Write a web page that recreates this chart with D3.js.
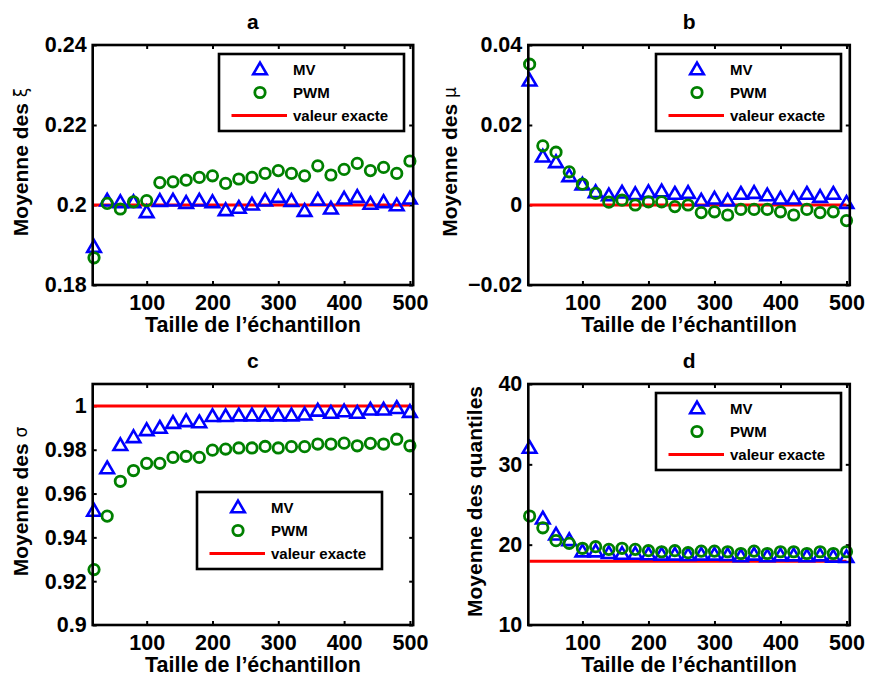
<!DOCTYPE html>
<html>
<head>
<meta charset="utf-8">
<script src="https://cdn.jsdelivr.net/npm/d3@7"></script>
<style>
  html, body { margin: 0; padding: 0; background: #fff; }
  svg { display: block; }
  text { font-family: "Liberation Sans", Arial, Helvetica, sans-serif; font-weight: bold; fill: #000; }
</style>
</head>
<body>
<svg id="chart" width="869" height="678"></svg>
<script>
// ---------------- DATA ----------------
const sampleSizes = [20, 40, 60, 80, 100, 120, 140, 160, 180, 200, 220, 240, 260, 280, 300, 320, 340, 360, 380, 400, 420, 440, 460, 480, 500];

const xiMV  = [0.1896, 0.2012, 0.2008, 0.2008, 0.1983, 0.2011, 0.2012, 0.2006, 0.2012, 0.2008, 0.1988, 0.1994, 0.2002, 0.2012, 0.2021, 0.2011, 0.1986, 0.2014, 0.1992, 0.2017, 0.2021, 0.2004, 0.2008, 0.2000, 0.2017];
const xiPWM = [0.1868, 0.2004, 0.1990, 0.2008, 0.2011, 0.2056, 0.2058, 0.2062, 0.2069, 0.2073, 0.2054, 0.2065, 0.2069, 0.2079, 0.2086, 0.2079, 0.2073, 0.2098, 0.2075, 0.2089, 0.2104, 0.2086, 0.2094, 0.2079, 0.2110];

const muMV  = [0.0312, 0.0122, 0.0108, 0.0073, 0.0052, 0.0033, 0.0025, 0.0032, 0.0028, 0.0033, 0.0035, 0.0029, 0.0031, 0.0012, 0.0017, 0.0012, 0.0029, 0.0031, 0.0025, 0.0017, 0.0017, 0.0029, 0.0021, 0.0029, 0.0006];
const muPWM = [0.0352, 0.0148, 0.0132, 0.0083, 0.0052, 0.0029, 0.0007, 0.0012, 0.0000, 0.0008, 0.0008, -0.0004, 0.0000, -0.0019, -0.0017, -0.0025, -0.0011, -0.0011, -0.0011, -0.0017, -0.0025, -0.0011, -0.0019, -0.0017, -0.0039];

const sigmaMV  = [0.9523, 0.9717, 0.9823, 0.9859, 0.9891, 0.9902, 0.9924, 0.9932, 0.9927, 0.9955, 0.9955, 0.9958, 0.9958, 0.9958, 0.9958, 0.9958, 0.9962, 0.9980, 0.9970, 0.9977, 0.9970, 0.9985, 0.9985, 0.9992, 0.9974];
const sigmaPWM = [0.9253, 0.9497, 0.9656, 0.9705, 0.9738, 0.9738, 0.9765, 0.9770, 0.9765, 0.9798, 0.9803, 0.9808, 0.9808, 0.9815, 0.9808, 0.9814, 0.9814, 0.9826, 0.9826, 0.9830, 0.9818, 0.9829, 0.9826, 0.9848, 0.9818];

const quantMV  = [32.1, 23.3, 21.3, 20.6, 19.2, 19.2, 19.0, 18.9, 18.9, 18.85, 18.8, 18.8, 18.75, 18.8, 18.8, 18.75, 18.6, 18.8, 18.6, 18.7, 18.7, 18.6, 18.7, 18.55, 18.5];
const quantPWM = [23.57, 22.1, 20.5, 20.17, 19.55, 19.75, 19.42, 19.55, 19.42, 19.25, 19.12, 19.25, 19.0, 19.2, 19.2, 19.12, 18.9, 19.2, 18.9, 19.12, 19.12, 18.9, 19.12, 18.9, 19.12];

const exactXi = 0.2, exactMu = 0, exactSigma = 1, exactQuant = 17.95;

const xTicks = [100, 200, 300, 400, 500];
const yTicksA = [0.18, 0.2, 0.22, 0.24];
const yTicksB = [-0.02, 0, 0.02, 0.04];
const yTicksC = [0.9, 0.92, 0.94, 0.96, 0.98, 1];
const yTicksD = [10, 20, 30, 40];

const panelTitles = ["a", "b", "c", "d"];
const legendLabels = ["MV", "PWM", "valeur exacte"];
const xAxisLabel = "Taille de l\u2019\u00e9chantillon";
const yLabelPrefix = "Moyenne des ";
const yLabelSymbols = ["\u03be", "\u03bc", "\u03c3", null];
const yLabelD = "Moyenne des quantiles";

// ---------------- LAYOUT ----------------
const svg = d3.select("#chart");
const BLUE = "#0000ff", GREEN = "#008000", RED = "#ff0000";

const panels = [
  { left: 92.7, top: 45, w: 320.5, h: 240, mv: xiMV, pwm: xiPWM, exact: exactXi, yDomain: [0.18, 0.24], yTicks: yTicksA,
    fmt: d => String(d), legend: [219, 54], ylabX: 28, sym: yLabelSymbols[0] },
  { left: 528.3, top: 45, w: 321.5, h: 240, mv: muMV, pwm: muPWM, exact: exactMu, yDomain: [-0.02, 0.04], yTicks: yTicksB,
    fmt: d => (d < 0 ? "\u2212" + String(-d) : String(d)), legend: [656, 54], ylabX: 457, sym: yLabelSymbols[1] },
  { left: 92.7, top: 384, w: 320.5, h: 241, mv: sigmaMV, pwm: sigmaPWM, exact: exactSigma, yDomain: [0.9, 1.01], yTicks: yTicksC,
    fmt: d => String(d), legend: [197, 492], ylabX: 28, sym: yLabelSymbols[2] },
  { left: 528.3, top: 384, w: 321.5, h: 241, mv: quantMV, pwm: quantPWM, exact: exactQuant, yDomain: [10, 40], yTicks: yTicksD,
    fmt: d => String(d), legend: [656, 393], ylabX: 482, sym: null }
];

const tickFont = 21.5;
const triPath = "M0,-6.4L6.8,5.3L-6.8,5.3Z";

panels.forEach((p, i) => {
  const g = svg.append("g").attr("transform", `translate(${p.left},${p.top})`);
  const x = d3.scaleLinear().domain([18, 505]).range([0, p.w]);
  const y = d3.scaleLinear().domain(p.yDomain).range([p.h, 0]);

  // axes (inward ticks)
  const ax = g.append("g").attr("transform", `translate(0,${p.h})`)
    .call(d3.axisBottom(x).tickValues(xTicks).tickSize(-4).tickPadding(10).tickFormat(d3.format("d")));
  const axTop = g.append("g")
    .call(d3.axisTop(x).tickValues(xTicks).tickSize(-4).tickFormat(""));
  const ay = g.append("g")
    .call(d3.axisLeft(y).tickValues(p.yTicks).tickSize(-4).tickPadding(6).tickFormat(p.fmt));
  const ayR = g.append("g").attr("transform", `translate(${p.w},0)`)
    .call(d3.axisRight(y).tickValues(p.yTicks).tickSize(-4).tickFormat(""));
  [ax, axTop, ay, ayR].forEach(a => {
    a.select(".domain").remove();
    a.selectAll(".tick line").attr("stroke", "#000").attr("stroke-width", 2);
    a.selectAll(".tick text").style("font-size", tickFont + "px").style("font-weight", "bold")
      .style("font-family", "'Liberation Sans', Arial, sans-serif").attr("fill", "#000");
  });

  // exact value line
  g.append("line")
    .attr("x1", x(sampleSizes[0])).attr("x2", x(sampleSizes[sampleSizes.length - 1]))
    .attr("y1", y(p.exact)).attr("y2", y(p.exact))
    .attr("stroke", RED).attr("stroke-width", 3);

  // MV triangles
  g.append("g").selectAll("path").data(sampleSizes).join("path")
    .attr("d", triPath)
    .attr("transform", (d, k) => `translate(${x(d)},${y(p.mv[k])})`)
    .attr("fill", "none").attr("stroke", BLUE).attr("stroke-width", 2.6);

  // PWM circles
  g.append("g").selectAll("circle").data(sampleSizes).join("circle")
    .attr("cx", d => x(d)).attr("cy", (d, k) => y(p.pwm[k])).attr("r", 5.2)
    .attr("fill", "none").attr("stroke", GREEN).attr("stroke-width", 2.8);

  // frame
  g.append("rect").attr("x", 0).attr("y", 0).attr("width", p.w).attr("height", p.h)
    .attr("fill", "none").attr("stroke", "#000").attr("stroke-width", 2.6);

  // title
  svg.append("text").attr("x", p.left + p.w / 2).attr("y", p.top - 16)
    .attr("text-anchor", "middle").style("font-size", "21px").text(panelTitles[i]);

  // x label
  svg.append("text").attr("x", p.left + p.w / 2).attr("y", p.top + p.h + 47)
    .attr("text-anchor", "middle").style("font-size", "21.5px").text(xAxisLabel);

  // y label
  const yl = svg.append("text")
    .attr("transform", `translate(${p.ylabX},${p.top + p.h / 2 - 3}) rotate(-90)`)
    .attr("text-anchor", "middle").style("font-size", "21px");
  if (p.sym) {
    yl.append("tspan").text(yLabelPrefix);
    yl.append("tspan").text(p.sym).style("font-weight", "normal").style("font-size", "17px")
      .style("font-family", "'DejaVu Sans', sans-serif").attr("dy", -1);
  } else {
    yl.text(yLabelD);
  }

  // legend
  const lg = svg.append("g").attr("transform", `translate(${p.legend[0]},${p.legend[1]})`);
  lg.append("rect").attr("x", 0).attr("y", 0).attr("width", 185).attr("height", 77)
    .attr("fill", "#fff").attr("stroke", "#000").attr("stroke-width", 2.6);
  const rows = [15, 38.5, 61.5];
  lg.append("path").attr("d", triPath).attr("transform", `translate(41,${rows[0]})`)
    .attr("fill", "none").attr("stroke", BLUE).attr("stroke-width", 2.6);
  lg.append("circle").attr("cx", 41).attr("cy", rows[1]).attr("r", 5.2)
    .attr("fill", "none").attr("stroke", GREEN).attr("stroke-width", 2.8);
  lg.append("line").attr("x1", 12.5).attr("x2", 68).attr("y1", rows[2]).attr("y2", rows[2])
    .attr("stroke", RED).attr("stroke-width", 3);
  legendLabels.forEach((t, k) => {
    lg.append("text").attr("x", 74).attr("y", rows[k] + 5.5).style("font-size", "15px").text(t);
  });
});
</script>
</body>
</html>
